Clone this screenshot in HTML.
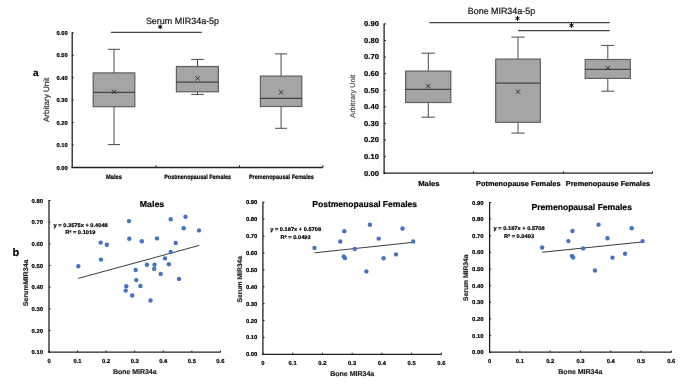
<!DOCTYPE html>
<html><head><meta charset="utf-8"><style>
html,body{margin:0;padding:0;background:#fff;}
body{width:685px;height:385px;overflow:hidden;}
svg{display:block;font-family:"Liberation Sans", sans-serif;}
#w{width:685px;height:385px;}
text{filter:grayscale(1);text-rendering:geometricPrecision;}
</style></head><body>
<div id="w"><svg width="685" height="385" viewBox="0 0 685 385">

<g>
<rect width="685" height="385" fill="#fff"/>
<line x1="72.20" y1="32.30" x2="72.20" y2="168.10" stroke="#222" stroke-width="1.3"/>
<line x1="71.60" y1="167.50" x2="322.90" y2="167.50" stroke="#222" stroke-width="1.3"/>
<line x1="72.20" y1="167.50" x2="73.80" y2="167.50" stroke="#222" stroke-width="1.0"/>
<text x="67.60" y="169.50" font-size="5.6" fill="#000" stroke="#000" stroke-width="0.2" font-weight="bold" text-anchor="end" textLength="11.20" lengthAdjust="spacingAndGlyphs">0.00</text>
<line x1="72.20" y1="145.05" x2="73.80" y2="145.05" stroke="#222" stroke-width="1.0"/>
<text x="67.60" y="147.05" font-size="5.6" fill="#000" stroke="#000" stroke-width="0.2" font-weight="bold" text-anchor="end" textLength="11.20" lengthAdjust="spacingAndGlyphs">0.10</text>
<line x1="72.20" y1="122.60" x2="73.80" y2="122.60" stroke="#222" stroke-width="1.0"/>
<text x="67.60" y="124.60" font-size="5.6" fill="#000" stroke="#000" stroke-width="0.2" font-weight="bold" text-anchor="end" textLength="11.20" lengthAdjust="spacingAndGlyphs">0.20</text>
<line x1="72.20" y1="100.15" x2="73.80" y2="100.15" stroke="#222" stroke-width="1.0"/>
<text x="67.60" y="102.15" font-size="5.6" fill="#000" stroke="#000" stroke-width="0.2" font-weight="bold" text-anchor="end" textLength="11.20" lengthAdjust="spacingAndGlyphs">0.30</text>
<line x1="72.20" y1="77.70" x2="73.80" y2="77.70" stroke="#222" stroke-width="1.0"/>
<text x="67.60" y="79.70" font-size="5.6" fill="#000" stroke="#000" stroke-width="0.2" font-weight="bold" text-anchor="end" textLength="11.20" lengthAdjust="spacingAndGlyphs">0.40</text>
<line x1="72.20" y1="55.25" x2="73.80" y2="55.25" stroke="#222" stroke-width="1.0"/>
<text x="67.60" y="57.25" font-size="5.6" fill="#000" stroke="#000" stroke-width="0.2" font-weight="bold" text-anchor="end" textLength="11.20" lengthAdjust="spacingAndGlyphs">0.50</text>
<line x1="72.20" y1="32.80" x2="73.80" y2="32.80" stroke="#222" stroke-width="1.0"/>
<text x="67.60" y="34.80" font-size="5.6" fill="#000" stroke="#000" stroke-width="0.2" font-weight="bold" text-anchor="end" textLength="11.20" lengthAdjust="spacingAndGlyphs">0.60</text>
<line x1="155.90" y1="167.50" x2="155.90" y2="165.30" stroke="#222" stroke-width="1.0"/>
<line x1="239.50" y1="167.50" x2="239.50" y2="165.30" stroke="#222" stroke-width="1.0"/>
<line x1="322.90" y1="167.50" x2="322.90" y2="165.30" stroke="#222" stroke-width="1.0"/>
<text x="106.00" y="178.80" font-size="6.3" fill="#000" stroke="#000" stroke-width="0.2" font-weight="bold" textLength="16.00" lengthAdjust="spacingAndGlyphs">Males</text>
<text x="164.20" y="178.80" font-size="6.3" fill="#000" stroke="#000" stroke-width="0.2" font-weight="bold" textLength="66.80" lengthAdjust="spacingAndGlyphs">Postmenopausal Females</text>
<text x="248.90" y="178.60" font-size="6.3" fill="#000" stroke="#000" stroke-width="0.2" font-weight="bold" textLength="65.00" lengthAdjust="spacingAndGlyphs">Premenopausal Females</text>
<line x1="114.00" y1="49.30" x2="114.00" y2="72.90" stroke="#4a4a4a" stroke-width="1.0"/>
<line x1="114.00" y1="106.70" x2="114.00" y2="144.60" stroke="#4a4a4a" stroke-width="1.0"/>
<line x1="107.90" y1="49.30" x2="120.10" y2="49.30" stroke="#4a4a4a" stroke-width="1.0"/>
<line x1="107.90" y1="144.60" x2="120.10" y2="144.60" stroke="#4a4a4a" stroke-width="1.0"/>
<rect x="93.20" y="72.90" width="41.60" height="33.80" fill="#a5a5a5" stroke="#5f5f5f" stroke-width="1.2"/>
<line x1="93.20" y1="92.30" x2="134.80" y2="92.30" stroke="#444" stroke-width="1.15"/>
<line x1="111.80" y1="89.60" x2="116.20" y2="94.00" stroke="#262626" stroke-width="0.9"/>
<line x1="111.80" y1="94.00" x2="116.20" y2="89.60" stroke="#262626" stroke-width="0.9"/>
<line x1="197.50" y1="59.40" x2="197.50" y2="66.50" stroke="#4a4a4a" stroke-width="1.0"/>
<line x1="197.50" y1="91.80" x2="197.50" y2="94.40" stroke="#4a4a4a" stroke-width="1.0"/>
<line x1="191.20" y1="59.40" x2="203.80" y2="59.40" stroke="#4a4a4a" stroke-width="1.0"/>
<line x1="191.20" y1="94.40" x2="203.80" y2="94.40" stroke="#4a4a4a" stroke-width="1.0"/>
<rect x="176.40" y="66.50" width="42.00" height="25.30" fill="#a5a5a5" stroke="#5f5f5f" stroke-width="1.2"/>
<line x1="176.40" y1="82.10" x2="218.40" y2="82.10" stroke="#444" stroke-width="1.15"/>
<line x1="195.30" y1="76.10" x2="199.70" y2="80.50" stroke="#262626" stroke-width="0.9"/>
<line x1="195.30" y1="80.50" x2="199.70" y2="76.10" stroke="#262626" stroke-width="0.9"/>
<line x1="281.10" y1="53.90" x2="281.10" y2="76.10" stroke="#4a4a4a" stroke-width="1.0"/>
<line x1="281.10" y1="106.50" x2="281.10" y2="128.30" stroke="#4a4a4a" stroke-width="1.0"/>
<line x1="275.05" y1="53.90" x2="287.15" y2="53.90" stroke="#4a4a4a" stroke-width="1.0"/>
<line x1="275.05" y1="128.30" x2="287.15" y2="128.30" stroke="#4a4a4a" stroke-width="1.0"/>
<rect x="260.40" y="76.10" width="41.40" height="30.40" fill="#a5a5a5" stroke="#5f5f5f" stroke-width="1.2"/>
<line x1="260.40" y1="98.30" x2="301.80" y2="98.30" stroke="#444" stroke-width="1.15"/>
<line x1="278.90" y1="90.10" x2="283.30" y2="94.50" stroke="#262626" stroke-width="0.9"/>
<line x1="278.90" y1="94.50" x2="283.30" y2="90.10" stroke="#262626" stroke-width="0.9"/>
<text x="145.90" y="24.00" font-size="9" fill="#111" stroke="#111" stroke-width="0.2" textLength="73.20" lengthAdjust="spacingAndGlyphs">Serum MIR34a-5p</text>
<line x1="110.90" y1="32.30" x2="201.80" y2="32.30" stroke="#444" stroke-width="1.2"/>
<line x1="160.20" y1="24.40" x2="160.20" y2="29.20" stroke="#000" stroke-width="1.0"/>
<line x1="158.12" y1="25.60" x2="162.28" y2="28.00" stroke="#000" stroke-width="1.0"/>
<line x1="162.28" y1="25.60" x2="158.12" y2="28.00" stroke="#000" stroke-width="1.0"/>
<text x="49.00" y="99.90" font-size="7.8" fill="#333" stroke="#333" stroke-width="0.2" text-anchor="middle" textLength="44.40" lengthAdjust="spacingAndGlyphs" transform="rotate(-90 49.00 99.90)">Arbitary Unit</text>
<text x="32.90" y="75.80" font-size="10" fill="#000" stroke="#000" stroke-width="0.2" font-weight="bold">a</text>
<line x1="384.10" y1="23.40" x2="384.10" y2="173.80" stroke="#222" stroke-width="1.3"/>
<line x1="383.50" y1="173.20" x2="652.70" y2="173.20" stroke="#222" stroke-width="1.3"/>
<line x1="384.10" y1="173.20" x2="385.90" y2="173.20" stroke="#222" stroke-width="1.0"/>
<text x="378.90" y="175.60" font-size="7.2" fill="#000" stroke="#000" stroke-width="0.2" font-weight="bold" text-anchor="end" textLength="14.80" lengthAdjust="spacingAndGlyphs">0.00</text>
<line x1="384.10" y1="156.61" x2="385.90" y2="156.61" stroke="#222" stroke-width="1.0"/>
<text x="378.90" y="159.01" font-size="7.2" fill="#000" stroke="#000" stroke-width="0.2" font-weight="bold" text-anchor="end" textLength="14.80" lengthAdjust="spacingAndGlyphs">0.10</text>
<line x1="384.10" y1="140.02" x2="385.90" y2="140.02" stroke="#222" stroke-width="1.0"/>
<text x="378.90" y="142.42" font-size="7.2" fill="#000" stroke="#000" stroke-width="0.2" font-weight="bold" text-anchor="end" textLength="14.80" lengthAdjust="spacingAndGlyphs">0.20</text>
<line x1="384.10" y1="123.43" x2="385.90" y2="123.43" stroke="#222" stroke-width="1.0"/>
<text x="378.90" y="125.83" font-size="7.2" fill="#000" stroke="#000" stroke-width="0.2" font-weight="bold" text-anchor="end" textLength="14.80" lengthAdjust="spacingAndGlyphs">0.30</text>
<line x1="384.10" y1="106.84" x2="385.90" y2="106.84" stroke="#222" stroke-width="1.0"/>
<text x="378.90" y="109.24" font-size="7.2" fill="#000" stroke="#000" stroke-width="0.2" font-weight="bold" text-anchor="end" textLength="14.80" lengthAdjust="spacingAndGlyphs">0.40</text>
<line x1="384.10" y1="90.26" x2="385.90" y2="90.26" stroke="#222" stroke-width="1.0"/>
<text x="378.90" y="92.66" font-size="7.2" fill="#000" stroke="#000" stroke-width="0.2" font-weight="bold" text-anchor="end" textLength="14.80" lengthAdjust="spacingAndGlyphs">0.50</text>
<line x1="384.10" y1="73.67" x2="385.90" y2="73.67" stroke="#222" stroke-width="1.0"/>
<text x="378.90" y="76.07" font-size="7.2" fill="#000" stroke="#000" stroke-width="0.2" font-weight="bold" text-anchor="end" textLength="14.80" lengthAdjust="spacingAndGlyphs">0.60</text>
<line x1="384.10" y1="57.08" x2="385.90" y2="57.08" stroke="#222" stroke-width="1.0"/>
<text x="378.90" y="59.48" font-size="7.2" fill="#000" stroke="#000" stroke-width="0.2" font-weight="bold" text-anchor="end" textLength="14.80" lengthAdjust="spacingAndGlyphs">0.70</text>
<line x1="384.10" y1="40.49" x2="385.90" y2="40.49" stroke="#222" stroke-width="1.0"/>
<text x="378.90" y="42.89" font-size="7.2" fill="#000" stroke="#000" stroke-width="0.2" font-weight="bold" text-anchor="end" textLength="14.80" lengthAdjust="spacingAndGlyphs">0.80</text>
<line x1="384.10" y1="23.90" x2="385.90" y2="23.90" stroke="#222" stroke-width="1.0"/>
<text x="378.90" y="26.30" font-size="7.2" fill="#000" stroke="#000" stroke-width="0.2" font-weight="bold" text-anchor="end" textLength="14.80" lengthAdjust="spacingAndGlyphs">0.90</text>
<line x1="473.50" y1="173.20" x2="473.50" y2="171.40" stroke="#222" stroke-width="1.0"/>
<line x1="563.40" y1="173.20" x2="563.40" y2="171.40" stroke="#222" stroke-width="1.0"/>
<line x1="652.50" y1="173.20" x2="652.50" y2="171.40" stroke="#222" stroke-width="1.0"/>
<text x="418.20" y="186.10" font-size="7.2" fill="#000" stroke="#000" stroke-width="0.2" font-weight="bold" textLength="21.40" lengthAdjust="spacingAndGlyphs">Males</text>
<text x="476.10" y="186.10" font-size="7.2" fill="#000" stroke="#000" stroke-width="0.2" font-weight="bold" textLength="84.40" lengthAdjust="spacingAndGlyphs">Potmenopause Females</text>
<text x="565.80" y="186.10" font-size="7.2" fill="#000" stroke="#000" stroke-width="0.2" font-weight="bold" textLength="84.30" lengthAdjust="spacingAndGlyphs">Premenopause Females</text>
<line x1="428.30" y1="53.20" x2="428.30" y2="71.10" stroke="#4a4a4a" stroke-width="1.0"/>
<line x1="428.30" y1="102.50" x2="428.30" y2="117.20" stroke="#4a4a4a" stroke-width="1.0"/>
<line x1="421.65" y1="53.20" x2="434.95" y2="53.20" stroke="#4a4a4a" stroke-width="1.0"/>
<line x1="421.65" y1="117.20" x2="434.95" y2="117.20" stroke="#4a4a4a" stroke-width="1.0"/>
<rect x="405.60" y="71.10" width="45.20" height="31.40" fill="#a5a5a5" stroke="#5f5f5f" stroke-width="1.2"/>
<line x1="405.60" y1="89.30" x2="450.80" y2="89.30" stroke="#444" stroke-width="1.15"/>
<line x1="426.10" y1="83.90" x2="430.50" y2="88.30" stroke="#262626" stroke-width="0.9"/>
<line x1="426.10" y1="88.30" x2="430.50" y2="83.90" stroke="#262626" stroke-width="0.9"/>
<line x1="518.00" y1="37.10" x2="518.00" y2="59.10" stroke="#4a4a4a" stroke-width="1.0"/>
<line x1="518.00" y1="122.30" x2="518.00" y2="133.10" stroke="#4a4a4a" stroke-width="1.0"/>
<line x1="511.40" y1="37.10" x2="524.60" y2="37.10" stroke="#4a4a4a" stroke-width="1.0"/>
<line x1="511.40" y1="133.10" x2="524.60" y2="133.10" stroke="#4a4a4a" stroke-width="1.0"/>
<rect x="495.70" y="59.10" width="44.60" height="63.20" fill="#a5a5a5" stroke="#5f5f5f" stroke-width="1.2"/>
<line x1="495.70" y1="83.10" x2="540.30" y2="83.10" stroke="#444" stroke-width="1.15"/>
<line x1="515.80" y1="89.50" x2="520.20" y2="93.90" stroke="#262626" stroke-width="0.9"/>
<line x1="515.80" y1="93.90" x2="520.20" y2="89.50" stroke="#262626" stroke-width="0.9"/>
<line x1="607.80" y1="45.40" x2="607.80" y2="59.50" stroke="#4a4a4a" stroke-width="1.0"/>
<line x1="607.80" y1="78.40" x2="607.80" y2="91.20" stroke="#4a4a4a" stroke-width="1.0"/>
<line x1="601.30" y1="45.40" x2="614.30" y2="45.40" stroke="#4a4a4a" stroke-width="1.0"/>
<line x1="601.30" y1="91.20" x2="614.30" y2="91.20" stroke="#4a4a4a" stroke-width="1.0"/>
<rect x="585.20" y="59.50" width="45.10" height="18.90" fill="#a5a5a5" stroke="#5f5f5f" stroke-width="1.2"/>
<line x1="585.20" y1="69.40" x2="630.30" y2="69.40" stroke="#444" stroke-width="1.15"/>
<line x1="605.60" y1="65.90" x2="610.00" y2="70.30" stroke="#262626" stroke-width="0.9"/>
<line x1="605.60" y1="70.30" x2="610.00" y2="65.90" stroke="#262626" stroke-width="0.9"/>
<text x="467.80" y="13.90" font-size="9" fill="#111" stroke="#111" stroke-width="0.2" textLength="67.30" lengthAdjust="spacingAndGlyphs">Bone MIR34a-5p</text>
<line x1="429.30" y1="22.60" x2="609.80" y2="22.60" stroke="#444" stroke-width="1.2"/>
<line x1="518.00" y1="30.70" x2="609.80" y2="30.70" stroke="#444" stroke-width="1.2"/>
<line x1="517.50" y1="16.00" x2="517.50" y2="20.80" stroke="#000" stroke-width="1.0"/>
<line x1="515.42" y1="17.20" x2="519.58" y2="19.60" stroke="#000" stroke-width="1.0"/>
<line x1="519.58" y1="17.20" x2="515.42" y2="19.60" stroke="#000" stroke-width="1.0"/>
<line x1="571.50" y1="23.00" x2="571.50" y2="27.80" stroke="#000" stroke-width="1.0"/>
<line x1="569.42" y1="24.20" x2="573.58" y2="26.60" stroke="#000" stroke-width="1.0"/>
<line x1="573.58" y1="24.20" x2="569.42" y2="26.60" stroke="#000" stroke-width="1.0"/>
<text x="355.50" y="96.20" font-size="7.2" fill="#555" stroke="#555" stroke-width="0.2" text-anchor="middle" textLength="43.10" lengthAdjust="spacingAndGlyphs" transform="rotate(-90 355.50 96.20)">Arbitrary Unit</text>
<line x1="49.00" y1="200.00" x2="49.00" y2="352.80" stroke="#222" stroke-width="1.3"/>
<line x1="48.40" y1="352.20" x2="220.70" y2="352.20" stroke="#222" stroke-width="1.3"/>
<line x1="49.00" y1="352.20" x2="50.60" y2="352.20" stroke="#222" stroke-width="1.0"/>
<text x="43.00" y="354.20" font-size="5.6" fill="#000" stroke="#000" stroke-width="0.2" font-weight="bold" text-anchor="end" textLength="11.50" lengthAdjust="spacingAndGlyphs">0.10</text>
<line x1="49.00" y1="330.53" x2="50.60" y2="330.53" stroke="#222" stroke-width="1.0"/>
<text x="43.00" y="332.53" font-size="5.6" fill="#000" stroke="#000" stroke-width="0.2" font-weight="bold" text-anchor="end" textLength="11.50" lengthAdjust="spacingAndGlyphs">0.20</text>
<line x1="49.00" y1="308.86" x2="50.60" y2="308.86" stroke="#222" stroke-width="1.0"/>
<text x="43.00" y="310.86" font-size="5.6" fill="#000" stroke="#000" stroke-width="0.2" font-weight="bold" text-anchor="end" textLength="11.50" lengthAdjust="spacingAndGlyphs">0.30</text>
<line x1="49.00" y1="287.19" x2="50.60" y2="287.19" stroke="#222" stroke-width="1.0"/>
<text x="43.00" y="289.19" font-size="5.6" fill="#000" stroke="#000" stroke-width="0.2" font-weight="bold" text-anchor="end" textLength="11.50" lengthAdjust="spacingAndGlyphs">0.40</text>
<line x1="49.00" y1="265.51" x2="50.60" y2="265.51" stroke="#222" stroke-width="1.0"/>
<text x="43.00" y="267.51" font-size="5.6" fill="#000" stroke="#000" stroke-width="0.2" font-weight="bold" text-anchor="end" textLength="11.50" lengthAdjust="spacingAndGlyphs">0.50</text>
<line x1="49.00" y1="243.84" x2="50.60" y2="243.84" stroke="#222" stroke-width="1.0"/>
<text x="43.00" y="245.84" font-size="5.6" fill="#000" stroke="#000" stroke-width="0.2" font-weight="bold" text-anchor="end" textLength="11.50" lengthAdjust="spacingAndGlyphs">0.60</text>
<line x1="49.00" y1="222.17" x2="50.60" y2="222.17" stroke="#222" stroke-width="1.0"/>
<text x="43.00" y="224.17" font-size="5.6" fill="#000" stroke="#000" stroke-width="0.2" font-weight="bold" text-anchor="end" textLength="11.50" lengthAdjust="spacingAndGlyphs">0.70</text>
<line x1="49.00" y1="200.50" x2="50.60" y2="200.50" stroke="#222" stroke-width="1.0"/>
<text x="43.00" y="202.50" font-size="5.6" fill="#000" stroke="#000" stroke-width="0.2" font-weight="bold" text-anchor="end" textLength="11.50" lengthAdjust="spacingAndGlyphs">0.80</text>
<line x1="49.00" y1="352.20" x2="49.00" y2="350.60" stroke="#222" stroke-width="1.0"/>
<text x="49.00" y="363.00" font-size="5.8" fill="#000" stroke="#000" stroke-width="0.2" font-weight="bold" text-anchor="middle">0</text>
<line x1="77.57" y1="352.20" x2="77.57" y2="350.60" stroke="#222" stroke-width="1.0"/>
<text x="77.57" y="363.00" font-size="5.8" fill="#000" stroke="#000" stroke-width="0.2" font-weight="bold" text-anchor="middle">0.1</text>
<line x1="106.13" y1="352.20" x2="106.13" y2="350.60" stroke="#222" stroke-width="1.0"/>
<text x="106.13" y="363.00" font-size="5.8" fill="#000" stroke="#000" stroke-width="0.2" font-weight="bold" text-anchor="middle">0.2</text>
<line x1="134.70" y1="352.20" x2="134.70" y2="350.60" stroke="#222" stroke-width="1.0"/>
<text x="134.70" y="363.00" font-size="5.8" fill="#000" stroke="#000" stroke-width="0.2" font-weight="bold" text-anchor="middle">0.3</text>
<line x1="163.27" y1="352.20" x2="163.27" y2="350.60" stroke="#222" stroke-width="1.0"/>
<text x="163.27" y="363.00" font-size="5.8" fill="#000" stroke="#000" stroke-width="0.2" font-weight="bold" text-anchor="middle">0.4</text>
<line x1="191.83" y1="352.20" x2="191.83" y2="350.60" stroke="#222" stroke-width="1.0"/>
<text x="191.83" y="363.00" font-size="5.8" fill="#000" stroke="#000" stroke-width="0.2" font-weight="bold" text-anchor="middle">0.5</text>
<line x1="220.40" y1="352.20" x2="220.40" y2="350.60" stroke="#222" stroke-width="1.0"/>
<text x="220.40" y="363.00" font-size="5.8" fill="#000" stroke="#000" stroke-width="0.2" font-weight="bold" text-anchor="middle">0.6</text>
<text x="112.90" y="374.30" font-size="7.0" fill="#262626" stroke="#262626" stroke-width="0.2" font-weight="bold" textLength="43.70" lengthAdjust="spacingAndGlyphs">Bone MIR34a</text>
<text x="28.30" y="282.90" font-size="6.8" fill="#262626" stroke="#262626" stroke-width="0.2" font-weight="bold" text-anchor="middle" textLength="46.90" lengthAdjust="spacingAndGlyphs" transform="rotate(-90 28.30 282.90)">SerumMIR34a</text>
<text x="139.70" y="207.10" font-size="8.6" fill="#000" stroke="#000" stroke-width="0.2" font-weight="bold" textLength="24.50" lengthAdjust="spacingAndGlyphs">Males</text>
<text x="53.60" y="226.90" font-size="5.4" fill="#000" stroke="#000" stroke-width="0.2" font-weight="bold" textLength="54.20" lengthAdjust="spacingAndGlyphs">y = 0.3575x + 0.4048</text>
<text x="65.30" y="234.30" font-size="5.4" fill="#000" stroke="#000" stroke-width="0.2" font-weight="bold" textLength="30.10" lengthAdjust="spacingAndGlyphs">R² = 0.1019</text>
<text x="12.40" y="256.00" font-size="11" fill="#000" stroke="#000" stroke-width="0.2" font-weight="bold">b</text>
<line x1="78.20" y1="278.40" x2="199.30" y2="245.40" stroke="#262626" stroke-width="0.9"/>
<circle cx="126.30" cy="286.20" r="2.2" fill="#4472c4"/>
<circle cx="125.70" cy="290.60" r="2.2" fill="#4472c4"/>
<circle cx="132.20" cy="295.50" r="2.2" fill="#4472c4"/>
<circle cx="135.70" cy="270.00" r="2.2" fill="#4472c4"/>
<circle cx="136.30" cy="280.10" r="2.2" fill="#4472c4"/>
<circle cx="140.40" cy="286.00" r="2.2" fill="#4472c4"/>
<circle cx="146.90" cy="264.80" r="2.2" fill="#4472c4"/>
<circle cx="150.50" cy="300.50" r="2.2" fill="#4472c4"/>
<circle cx="154.50" cy="264.80" r="2.2" fill="#4472c4"/>
<circle cx="154.20" cy="268.90" r="2.2" fill="#4472c4"/>
<circle cx="160.70" cy="273.90" r="2.2" fill="#4472c4"/>
<circle cx="165.00" cy="258.40" r="2.2" fill="#4472c4"/>
<circle cx="168.90" cy="264.20" r="2.2" fill="#4472c4"/>
<circle cx="170.70" cy="252.00" r="2.2" fill="#4472c4"/>
<circle cx="175.70" cy="243.00" r="2.2" fill="#4472c4"/>
<circle cx="179.00" cy="278.90" r="2.2" fill="#4472c4"/>
<circle cx="170.70" cy="219.30" r="2.2" fill="#4472c4"/>
<circle cx="185.50" cy="216.70" r="2.2" fill="#4472c4"/>
<circle cx="183.70" cy="228.20" r="2.2" fill="#4472c4"/>
<circle cx="199.00" cy="230.40" r="2.2" fill="#4472c4"/>
<circle cx="157.00" cy="238.40" r="2.2" fill="#4472c4"/>
<circle cx="141.80" cy="241.20" r="2.2" fill="#4472c4"/>
<circle cx="129.00" cy="221.10" r="2.2" fill="#4472c4"/>
<circle cx="129.30" cy="238.70" r="2.2" fill="#4472c4"/>
<circle cx="100.70" cy="242.60" r="2.2" fill="#4472c4"/>
<circle cx="106.80" cy="244.80" r="2.2" fill="#4472c4"/>
<circle cx="100.90" cy="259.60" r="2.2" fill="#4472c4"/>
<circle cx="78.30" cy="266.20" r="2.2" fill="#4472c4"/>
<line x1="262.90" y1="201.80" x2="262.90" y2="354.90" stroke="#222" stroke-width="1.3"/>
<line x1="262.30" y1="354.30" x2="441.70" y2="354.30" stroke="#222" stroke-width="1.3"/>
<line x1="262.90" y1="354.30" x2="264.50" y2="354.30" stroke="#222" stroke-width="1.0"/>
<text x="257.40" y="356.30" font-size="5.6" fill="#000" stroke="#000" stroke-width="0.2" font-weight="bold" text-anchor="end" textLength="11.50" lengthAdjust="spacingAndGlyphs">0.00</text>
<line x1="262.90" y1="337.41" x2="264.50" y2="337.41" stroke="#222" stroke-width="1.0"/>
<text x="257.40" y="339.41" font-size="5.6" fill="#000" stroke="#000" stroke-width="0.2" font-weight="bold" text-anchor="end" textLength="11.50" lengthAdjust="spacingAndGlyphs">0.10</text>
<line x1="262.90" y1="320.52" x2="264.50" y2="320.52" stroke="#222" stroke-width="1.0"/>
<text x="257.40" y="322.52" font-size="5.6" fill="#000" stroke="#000" stroke-width="0.2" font-weight="bold" text-anchor="end" textLength="11.50" lengthAdjust="spacingAndGlyphs">0.20</text>
<line x1="262.90" y1="303.63" x2="264.50" y2="303.63" stroke="#222" stroke-width="1.0"/>
<text x="257.40" y="305.63" font-size="5.6" fill="#000" stroke="#000" stroke-width="0.2" font-weight="bold" text-anchor="end" textLength="11.50" lengthAdjust="spacingAndGlyphs">0.30</text>
<line x1="262.90" y1="286.74" x2="264.50" y2="286.74" stroke="#222" stroke-width="1.0"/>
<text x="257.40" y="288.74" font-size="5.6" fill="#000" stroke="#000" stroke-width="0.2" font-weight="bold" text-anchor="end" textLength="11.50" lengthAdjust="spacingAndGlyphs">0.40</text>
<line x1="262.90" y1="269.86" x2="264.50" y2="269.86" stroke="#222" stroke-width="1.0"/>
<text x="257.40" y="271.86" font-size="5.6" fill="#000" stroke="#000" stroke-width="0.2" font-weight="bold" text-anchor="end" textLength="11.50" lengthAdjust="spacingAndGlyphs">0.50</text>
<line x1="262.90" y1="252.97" x2="264.50" y2="252.97" stroke="#222" stroke-width="1.0"/>
<text x="257.40" y="254.97" font-size="5.6" fill="#000" stroke="#000" stroke-width="0.2" font-weight="bold" text-anchor="end" textLength="11.50" lengthAdjust="spacingAndGlyphs">0.60</text>
<line x1="262.90" y1="236.08" x2="264.50" y2="236.08" stroke="#222" stroke-width="1.0"/>
<text x="257.40" y="238.08" font-size="5.6" fill="#000" stroke="#000" stroke-width="0.2" font-weight="bold" text-anchor="end" textLength="11.50" lengthAdjust="spacingAndGlyphs">0.70</text>
<line x1="262.90" y1="219.19" x2="264.50" y2="219.19" stroke="#222" stroke-width="1.0"/>
<text x="257.40" y="221.19" font-size="5.6" fill="#000" stroke="#000" stroke-width="0.2" font-weight="bold" text-anchor="end" textLength="11.50" lengthAdjust="spacingAndGlyphs">0.80</text>
<line x1="262.90" y1="202.30" x2="264.50" y2="202.30" stroke="#222" stroke-width="1.0"/>
<text x="257.40" y="204.30" font-size="5.6" fill="#000" stroke="#000" stroke-width="0.2" font-weight="bold" text-anchor="end" textLength="11.50" lengthAdjust="spacingAndGlyphs">0.90</text>
<line x1="262.90" y1="354.30" x2="262.90" y2="352.70" stroke="#222" stroke-width="1.0"/>
<text x="262.90" y="365.00" font-size="5.8" fill="#000" stroke="#000" stroke-width="0.2" font-weight="bold" text-anchor="middle">0</text>
<line x1="292.65" y1="354.30" x2="292.65" y2="352.70" stroke="#222" stroke-width="1.0"/>
<text x="292.65" y="365.00" font-size="5.8" fill="#000" stroke="#000" stroke-width="0.2" font-weight="bold" text-anchor="middle">0.1</text>
<line x1="322.40" y1="354.30" x2="322.40" y2="352.70" stroke="#222" stroke-width="1.0"/>
<text x="322.40" y="365.00" font-size="5.8" fill="#000" stroke="#000" stroke-width="0.2" font-weight="bold" text-anchor="middle">0.2</text>
<line x1="352.15" y1="354.30" x2="352.15" y2="352.70" stroke="#222" stroke-width="1.0"/>
<text x="352.15" y="365.00" font-size="5.8" fill="#000" stroke="#000" stroke-width="0.2" font-weight="bold" text-anchor="middle">0.3</text>
<line x1="381.90" y1="354.30" x2="381.90" y2="352.70" stroke="#222" stroke-width="1.0"/>
<text x="381.90" y="365.00" font-size="5.8" fill="#000" stroke="#000" stroke-width="0.2" font-weight="bold" text-anchor="middle">0.4</text>
<line x1="411.65" y1="354.30" x2="411.65" y2="352.70" stroke="#222" stroke-width="1.0"/>
<text x="411.65" y="365.00" font-size="5.8" fill="#000" stroke="#000" stroke-width="0.2" font-weight="bold" text-anchor="middle">0.5</text>
<line x1="441.40" y1="354.30" x2="441.40" y2="352.70" stroke="#222" stroke-width="1.0"/>
<text x="441.40" y="365.00" font-size="5.8" fill="#000" stroke="#000" stroke-width="0.2" font-weight="bold" text-anchor="middle">0.6</text>
<text x="330.20" y="376.00" font-size="7.0" fill="#262626" stroke="#262626" stroke-width="0.2" font-weight="bold" textLength="44.00" lengthAdjust="spacingAndGlyphs">Bone MIR34a</text>
<text x="241.90" y="279.20" font-size="6.8" fill="#262626" stroke="#262626" stroke-width="0.2" font-weight="bold" text-anchor="middle" textLength="46.50" lengthAdjust="spacingAndGlyphs" transform="rotate(-90 241.90 279.20)">Serum MIR34a</text>
<text x="312.30" y="207.30" font-size="8.6" fill="#000" stroke="#000" stroke-width="0.2" font-weight="bold" textLength="104.70" lengthAdjust="spacingAndGlyphs">Postmenopausal Females</text>
<text x="270.20" y="231.10" font-size="5.4" fill="#000" stroke="#000" stroke-width="0.2" font-weight="bold" textLength="50.90" lengthAdjust="spacingAndGlyphs">y = 0.187x + 0.5708</text>
<text x="280.60" y="238.80" font-size="5.4" fill="#000" stroke="#000" stroke-width="0.2" font-weight="bold" textLength="30.10" lengthAdjust="spacingAndGlyphs">R² = 0.0493</text>
<line x1="314.49" y1="252.82" x2="413.20" y2="242.34" stroke="#262626" stroke-width="0.9"/>
<circle cx="314.50" cy="248.00" r="2.2" fill="#4472c4"/>
<circle cx="344.30" cy="231.30" r="2.2" fill="#4472c4"/>
<circle cx="340.30" cy="241.50" r="2.2" fill="#4472c4"/>
<circle cx="369.90" cy="224.80" r="2.2" fill="#4472c4"/>
<circle cx="378.70" cy="238.60" r="2.2" fill="#4472c4"/>
<circle cx="354.80" cy="248.90" r="2.2" fill="#4472c4"/>
<circle cx="402.50" cy="228.50" r="2.2" fill="#4472c4"/>
<circle cx="413.20" cy="241.50" r="2.2" fill="#4472c4"/>
<circle cx="396.00" cy="254.40" r="2.2" fill="#4472c4"/>
<circle cx="343.80" cy="256.50" r="2.2" fill="#4472c4"/>
<circle cx="345.00" cy="258.10" r="2.2" fill="#4472c4"/>
<circle cx="383.60" cy="258.30" r="2.2" fill="#4472c4"/>
<circle cx="366.40" cy="271.40" r="2.2" fill="#4472c4"/>
<line x1="489.60" y1="202.00" x2="489.60" y2="352.80" stroke="#222" stroke-width="1.3"/>
<line x1="489.00" y1="352.20" x2="671.60" y2="352.20" stroke="#222" stroke-width="1.3"/>
<line x1="489.60" y1="352.20" x2="491.20" y2="352.20" stroke="#222" stroke-width="1.0"/>
<text x="483.60" y="354.20" font-size="5.6" fill="#000" stroke="#000" stroke-width="0.2" font-weight="bold" text-anchor="end" textLength="11.50" lengthAdjust="spacingAndGlyphs">0.00</text>
<line x1="489.60" y1="335.57" x2="491.20" y2="335.57" stroke="#222" stroke-width="1.0"/>
<text x="483.60" y="337.57" font-size="5.6" fill="#000" stroke="#000" stroke-width="0.2" font-weight="bold" text-anchor="end" textLength="11.50" lengthAdjust="spacingAndGlyphs">0.10</text>
<line x1="489.60" y1="318.93" x2="491.20" y2="318.93" stroke="#222" stroke-width="1.0"/>
<text x="483.60" y="320.93" font-size="5.6" fill="#000" stroke="#000" stroke-width="0.2" font-weight="bold" text-anchor="end" textLength="11.50" lengthAdjust="spacingAndGlyphs">0.20</text>
<line x1="489.60" y1="302.30" x2="491.20" y2="302.30" stroke="#222" stroke-width="1.0"/>
<text x="483.60" y="304.30" font-size="5.6" fill="#000" stroke="#000" stroke-width="0.2" font-weight="bold" text-anchor="end" textLength="11.50" lengthAdjust="spacingAndGlyphs">0.30</text>
<line x1="489.60" y1="285.67" x2="491.20" y2="285.67" stroke="#222" stroke-width="1.0"/>
<text x="483.60" y="287.67" font-size="5.6" fill="#000" stroke="#000" stroke-width="0.2" font-weight="bold" text-anchor="end" textLength="11.50" lengthAdjust="spacingAndGlyphs">0.40</text>
<line x1="489.60" y1="269.03" x2="491.20" y2="269.03" stroke="#222" stroke-width="1.0"/>
<text x="483.60" y="271.03" font-size="5.6" fill="#000" stroke="#000" stroke-width="0.2" font-weight="bold" text-anchor="end" textLength="11.50" lengthAdjust="spacingAndGlyphs">0.50</text>
<line x1="489.60" y1="252.40" x2="491.20" y2="252.40" stroke="#222" stroke-width="1.0"/>
<text x="483.60" y="254.40" font-size="5.6" fill="#000" stroke="#000" stroke-width="0.2" font-weight="bold" text-anchor="end" textLength="11.50" lengthAdjust="spacingAndGlyphs">0.60</text>
<line x1="489.60" y1="235.77" x2="491.20" y2="235.77" stroke="#222" stroke-width="1.0"/>
<text x="483.60" y="237.77" font-size="5.6" fill="#000" stroke="#000" stroke-width="0.2" font-weight="bold" text-anchor="end" textLength="11.50" lengthAdjust="spacingAndGlyphs">0.70</text>
<line x1="489.60" y1="219.13" x2="491.20" y2="219.13" stroke="#222" stroke-width="1.0"/>
<text x="483.60" y="221.13" font-size="5.6" fill="#000" stroke="#000" stroke-width="0.2" font-weight="bold" text-anchor="end" textLength="11.50" lengthAdjust="spacingAndGlyphs">0.80</text>
<line x1="489.60" y1="202.50" x2="491.20" y2="202.50" stroke="#222" stroke-width="1.0"/>
<text x="483.60" y="204.50" font-size="5.6" fill="#000" stroke="#000" stroke-width="0.2" font-weight="bold" text-anchor="end" textLength="11.50" lengthAdjust="spacingAndGlyphs">0.90</text>
<line x1="489.60" y1="352.20" x2="489.60" y2="350.60" stroke="#222" stroke-width="1.0"/>
<text x="489.60" y="363.20" font-size="5.8" fill="#000" stroke="#000" stroke-width="0.2" font-weight="bold" text-anchor="middle">0</text>
<line x1="519.88" y1="352.20" x2="519.88" y2="350.60" stroke="#222" stroke-width="1.0"/>
<text x="519.88" y="363.20" font-size="5.8" fill="#000" stroke="#000" stroke-width="0.2" font-weight="bold" text-anchor="middle">0.1</text>
<line x1="550.17" y1="352.20" x2="550.17" y2="350.60" stroke="#222" stroke-width="1.0"/>
<text x="550.17" y="363.20" font-size="5.8" fill="#000" stroke="#000" stroke-width="0.2" font-weight="bold" text-anchor="middle">0.2</text>
<line x1="580.45" y1="352.20" x2="580.45" y2="350.60" stroke="#222" stroke-width="1.0"/>
<text x="580.45" y="363.20" font-size="5.8" fill="#000" stroke="#000" stroke-width="0.2" font-weight="bold" text-anchor="middle">0.3</text>
<line x1="610.73" y1="352.20" x2="610.73" y2="350.60" stroke="#222" stroke-width="1.0"/>
<text x="610.73" y="363.20" font-size="5.8" fill="#000" stroke="#000" stroke-width="0.2" font-weight="bold" text-anchor="middle">0.4</text>
<line x1="641.02" y1="352.20" x2="641.02" y2="350.60" stroke="#222" stroke-width="1.0"/>
<text x="641.02" y="363.20" font-size="5.8" fill="#000" stroke="#000" stroke-width="0.2" font-weight="bold" text-anchor="middle">0.5</text>
<line x1="671.30" y1="352.20" x2="671.30" y2="350.60" stroke="#222" stroke-width="1.0"/>
<text x="671.30" y="363.20" font-size="5.8" fill="#000" stroke="#000" stroke-width="0.2" font-weight="bold" text-anchor="middle">0.6</text>
<text x="558.30" y="374.40" font-size="7.0" fill="#262626" stroke="#262626" stroke-width="0.2" font-weight="bold" textLength="44.00" lengthAdjust="spacingAndGlyphs">Bone MIR34a</text>
<text x="468.40" y="277.70" font-size="6.8" fill="#262626" stroke="#262626" stroke-width="0.2" font-weight="bold" text-anchor="middle" textLength="46.50" lengthAdjust="spacingAndGlyphs" transform="rotate(-90 468.40 277.70)">Serum MIR34a</text>
<text x="531.50" y="210.20" font-size="8.6" fill="#000" stroke="#000" stroke-width="0.2" font-weight="bold" textLength="100.40" lengthAdjust="spacingAndGlyphs">Premenopausal Females</text>
<text x="493.60" y="230.30" font-size="5.4" fill="#000" stroke="#000" stroke-width="0.2" font-weight="bold" textLength="51.00" lengthAdjust="spacingAndGlyphs">y = 0.187x + 0.5708</text>
<text x="504.00" y="238.10" font-size="5.4" fill="#000" stroke="#000" stroke-width="0.2" font-weight="bold" textLength="30.10" lengthAdjust="spacingAndGlyphs">R² = 0.0493</text>
<line x1="542.11" y1="252.26" x2="642.59" y2="241.94" stroke="#262626" stroke-width="0.9"/>
<circle cx="542.13" cy="247.51" r="2.2" fill="#4472c4"/>
<circle cx="572.46" cy="231.06" r="2.2" fill="#4472c4"/>
<circle cx="568.39" cy="241.11" r="2.2" fill="#4472c4"/>
<circle cx="598.52" cy="224.66" r="2.2" fill="#4472c4"/>
<circle cx="607.48" cy="238.25" r="2.2" fill="#4472c4"/>
<circle cx="583.15" cy="248.39" r="2.2" fill="#4472c4"/>
<circle cx="631.70" cy="228.30" r="2.2" fill="#4472c4"/>
<circle cx="642.59" cy="241.11" r="2.2" fill="#4472c4"/>
<circle cx="625.09" cy="253.81" r="2.2" fill="#4472c4"/>
<circle cx="571.95" cy="255.88" r="2.2" fill="#4472c4"/>
<circle cx="573.17" cy="257.46" r="2.2" fill="#4472c4"/>
<circle cx="612.46" cy="257.65" r="2.2" fill="#4472c4"/>
<circle cx="594.96" cy="270.55" r="2.2" fill="#4472c4"/>
</g>
</svg></div>
</body></html>
